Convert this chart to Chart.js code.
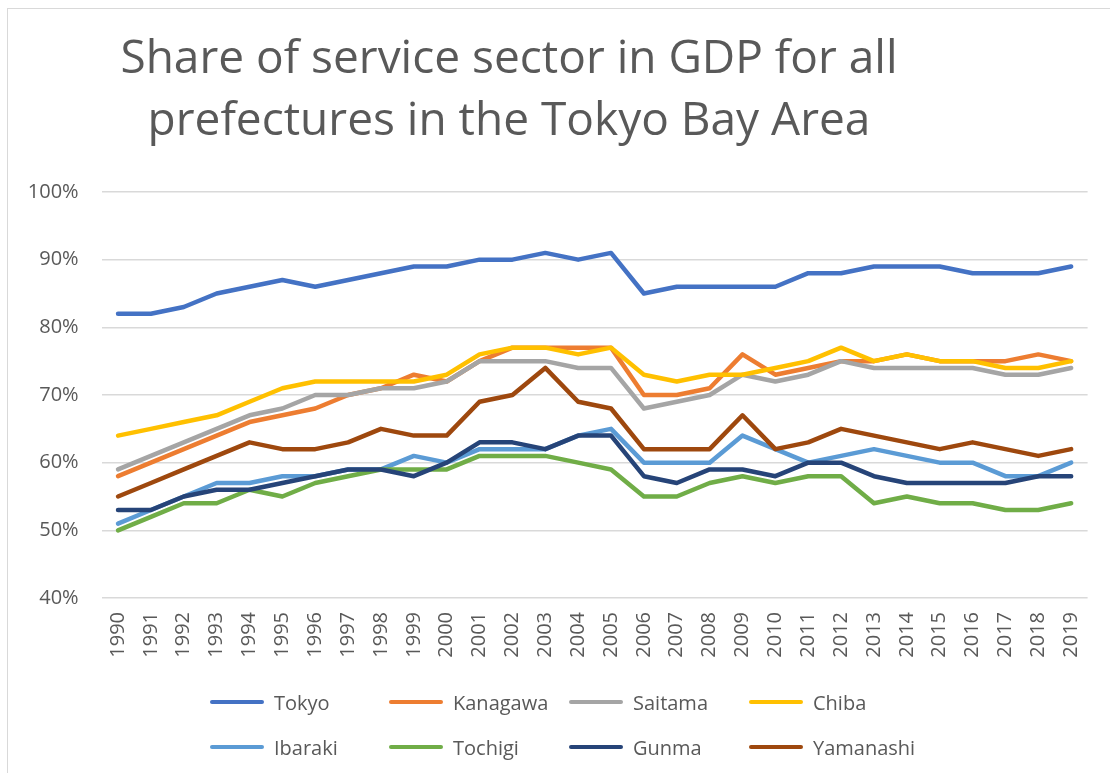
<!DOCTYPE html>
<html>
<head>
<meta charset="utf-8">
<script src="https://cdn.jsdelivr.net/npm/chart.js@4"></script>
<style>
    html, body { margin: 0; padding: 0; background: #fff; }
    #wrap { position: relative; width: 1110px; height: 773px; overflow: hidden; font-family: "Open Sans", sans-serif; }
    #frame { position: absolute; left: 7px; top: 8px; width: 1200px; height: 900px; border-left: 1.5px solid #d9d9d9; border-top: 1.5px solid #d9d9d9; }
    #title { position: absolute; left: 0; top: 24px; width: 1018px; text-align: center; font-size: 46px; line-height: 62px; color: #595959; }
    #chart { position: absolute; left: 0; top: 0; }
    .legend-item { position: absolute; height: 30px; display: flex; align-items: center; }
    .legend-line { width: 54px; height: 4.5px; border-radius: 3px; margin-right: 10px; }
    .legend-text { font-size: 20px; color: #595959; white-space: nowrap; }
</style>
</head>
<body>
<div id="wrap">
    <div id="frame"></div>
    <canvas id="chart" width="1110" height="773"></canvas>
    <div id="title">Share of service sector in GDP for all<br>prefectures in the Tokyo Bay Area</div>
    <div id="legend"></div>
</div>
<script>
// Years on the x axis
const years = ['1990', '1991', '1992', '1993', '1994', '1995', '1996', '1997', '1998', '1999',
    '2000', '2001', '2002', '2003', '2004', '2005', '2006', '2007', '2008', '2009',
    '2010', '2011', '2012', '2013', '2014', '2015', '2016', '2017', '2018', '2019'];

// Share of service sector (%)
const tokyo = [82, 82, 83, 85, 86, 87, 86, 87, 88, 89, 89, 90, 90, 91, 90, 91, 85, 86, 86, 86, 86, 88, 88, 89, 89, 89, 88, 88, 88, 89];
const kanagawa = [58, 60, 62, 64, 66, 67, 68, 70, 71, 73, 72, 75, 77, 77, 77, 77, 70, 70, 71, 76, 73, 74, 75, 75, 76, 75, 75, 75, 76, 75];
const saitama = [59, 61, 63, 65, 67, 68, 70, 70, 71, 71, 72, 75, 75, 75, 74, 74, 68, 69, 70, 73, 72, 73, 75, 74, 74, 74, 74, 73, 73, 74];
const chiba = [64, 65, 66, 67, 69, 71, 72, 72, 72, 72, 73, 76, 77, 77, 76, 77, 73, 72, 73, 73, 74, 75, 77, 75, 76, 75, 75, 74, 74, 75];
const ibaraki = [51, 53, 55, 57, 57, 58, 58, 59, 59, 61, 60, 62, 62, 62, 64, 65, 60, 60, 60, 64, 62, 60, 61, 62, 61, 60, 60, 58, 58, 60];
const tochigi = [50, 52, 54, 54, 56, 55, 57, 58, 59, 59, 59, 61, 61, 61, 60, 59, 55, 55, 57, 58, 57, 58, 58, 54, 55, 54, 54, 53, 53, 54];
const gunma = [53, 53, 55, 56, 56, 57, 58, 59, 59, 58, 60, 63, 63, 62, 64, 64, 58, 57, 59, 59, 58, 60, 60, 58, 57, 57, 57, 57, 58, 58];
const yamanashi = [55, 57, 59, 61, 63, 62, 62, 63, 65, 64, 64, 69, 70, 74, 69, 68, 62, 62, 62, 67, 62, 63, 65, 64, 63, 62, 63, 62, 61, 62];

const yTicks = [40, 50, 60, 70, 80, 90, 100];

const seriesNames = ['Tokyo', 'Kanagawa', 'Saitama', 'Chiba', 'Ibaraki', 'Tochigi', 'Gunma', 'Yamanashi'];
const seriesValues = [tokyo, kanagawa, saitama, chiba, ibaraki, tochigi, gunma, yamanashi];
const seriesColors = ['#4472C4', '#ED7D31', '#A5A5A5', '#FFC000', '#5B9BD5', '#70AD47', '#264478', '#9E480E'];

const datasets = seriesNames.map((name, i) => ({
    label: name,
    data: seriesValues[i],
    borderColor: seriesColors[i],
    backgroundColor: seriesColors[i],
    borderWidth: 4.5,
    borderCapStyle: 'round',
    borderJoinStyle: 'round',
    pointRadius: 0,
    tension: 0,
    // later series drawn on top, like the original
    order: seriesNames.length - i
}));

const ctx = document.getElementById('chart').getContext('2d');
const chart = new Chart(ctx, {
    type: 'line',
    data: { labels: years, datasets: datasets },
    options: {
        responsive: false,
        animation: false,
        devicePixelRatio: 1,
        layout: { padding: { top: 192, right: 22.4, bottom: 0, left: 0 } },
        plugins: {
            legend: { display: false },
            title: { display: false },
            tooltip: { enabled: false }
        },
        scales: {
            x: {
                offset: true,
                grid: { display: false, drawTicks: false },
                border: { display: false },
                ticks: {
                    minRotation: 90,
                    maxRotation: 90,
                    autoSkip: false,
                    padding: 14,
                    color: '#595959',
                    font: { family: 'Open Sans', size: 20 }
                },
                afterFit: (scale) => { scale.height = 175; }
            },
            y: {
                min: yTicks[0],
                max: yTicks[yTicks.length - 1],
                afterBuildTicks: (scale) => { scale.ticks = yTicks.map(v => ({ value: v })); },
                grid: { color: '#d9d9d9', lineWidth: 1.5, drawTicks: false },
                border: { display: false },
                ticks: {
                    padding: 23,
                    color: '#595959',
                    font: { family: 'Open Sans', size: 20 },
                    callback: (v) => v + '%'
                },
                afterFit: (scale) => { scale.width = 101.6; }
            }
        }
    }
});

// HTML legend in a fixed grid of 4 columns
const legendCols = [210, 389, 569, 749];
const legendRows = [702, 747];
const legend = document.getElementById('legend');
chart.data.datasets.forEach((ds, i) => {
    const item = document.createElement('div');
    item.className = 'legend-item';
    item.style.left = legendCols[i % 4] + 'px';
    item.style.top = (legendRows[Math.floor(i / 4)] - 15) + 'px';
    const line = document.createElement('div');
    line.className = 'legend-line';
    line.style.background = ds.borderColor;
    const text = document.createElement('span');
    text.className = 'legend-text';
    text.textContent = ds.label;
    item.appendChild(line);
    item.appendChild(text);
    legend.appendChild(item);
});
</script>
</body>
</html>
